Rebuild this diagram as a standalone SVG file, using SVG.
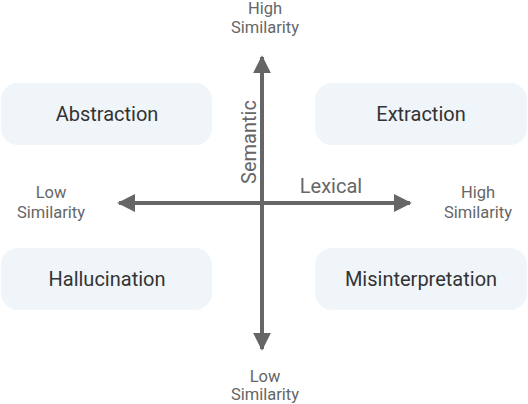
<svg xmlns="http://www.w3.org/2000/svg" width="528" height="404" viewBox="0 0 528 404">
<style>
.box{fill:#f0f5fa;stroke:none}
.bl{font-family:Roboto,"Liberation Sans",sans-serif;font-size:20px;fill:#333;text-anchor:middle}
.sl{font-family:Roboto,"Liberation Sans",sans-serif;font-size:16.5px;fill:#666;text-anchor:middle}
.al{font-family:Roboto,"Liberation Sans",sans-serif;font-size:20px;fill:#666;text-anchor:middle}
.ax{stroke:#666;stroke-width:4;fill:none}
</style>
<defs>
<marker id="ah" viewBox="0 0 10 10" refX="9" refY="5" markerWidth="4.5" markerHeight="4.5" orient="auto" markerUnits="strokeWidth">
<path d="M0,0 L10,5 L0,10 z" fill="#666"/>
</marker>
</defs>
<rect width="528" height="404" fill="#fff"/>
<g id="abstraction"><rect class="box" x="1" y="83" width="211" height="62" rx="17"/><text class="bl" x="107" y="121">Abstraction</text></g>
<g id="extraction"><rect class="box" x="315" y="83" width="212" height="62" rx="17"/><text class="bl" x="421" y="121">Extraction</text></g>
<g id="hallucination"><rect class="box" x="1" y="248" width="211" height="62" rx="17"/><text class="bl" x="107" y="286">Hallucination</text></g>
<g id="misinterpretation"><rect class="box" x="315" y="248" width="212" height="62" rx="17"/><text class="bl" x="421" y="286">Misinterpretation</text></g>
<g id="connectors">
<line class="ax" x1="262" y1="203" x2="262" y2="57" marker-end="url(#ah)"/>
<line class="ax" x1="262" y1="203" x2="262" y2="349" marker-end="url(#ah)"/>
<line class="ax" x1="262" y1="203" x2="119" y2="203" marker-end="url(#ah)"/>
<line class="ax" x1="262" y1="203" x2="410" y2="203" marker-end="url(#ah)"/>
</g>
<g id="labels">
<text class="sl" x="265" y="14">High</text>
<text class="sl" x="265" y="33">Similarity</text>
<text class="sl" x="51" y="198">Low</text>
<text class="sl" x="51" y="218">Similarity</text>
<text class="sl" x="478" y="198">High</text>
<text class="sl" x="478" y="218">Similarity</text>
<text class="sl" x="265" y="382">Low</text>
<text class="sl" x="265" y="400">Similarity</text>
<text class="al" x="331" y="193">Lexical</text>
<text class="al" transform="translate(256,142) rotate(-90)">Semantic</text>
</g>
</svg>
